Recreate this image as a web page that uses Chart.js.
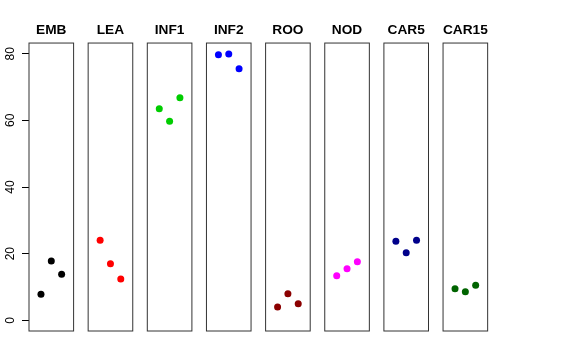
<!DOCTYPE html>
<html>
<head>
<meta charset="utf-8">
<script src="https://cdn.jsdelivr.net/npm/chart.js@4/dist/chart.umd.min.js"></script>
<style>
  html, body { margin: 0; padding: 0; background: #fff; }
  #wrap { position: relative; width: 576px; height: 360px; }
  #wrap canvas { position: absolute; left: 0; top: 0; }
</style>
</head>
<body>
<div id="wrap"></div>
<script>
// panel names and colours
const panels = ['EMB', 'LEA', 'INF1', 'INF2', 'ROO', 'NOD', 'CAR5', 'CAR15'];
const colors = ['#000000', '#FF0000', '#00CD00', '#0000FF', '#8B0000', '#FF00FF', '#00008B', '#006400'];

// jittered x positions inside each panel
const xPos = [1, 2, 3];

// values, one array per panel
const embVals = [7.8, 17.8, 13.8];
const leaVals = [24.0, 17.0, 12.4];
const inf1Vals = [63.5, 59.7, 66.8];
const inf2Vals = [79.7, 79.9, 75.5];
const rooVals = [4.0, 8.0, 5.0];
const nodVals = [13.4, 15.5, 17.6];
const car5Vals = [23.7, 20.3, 24.0];
const car15Vals = [9.5, 8.6, 10.5];
const allVals = [embVals, leaVals, inf1Vals, inf2Vals, rooVals, nodVals, car5Vals, car15Vals];

const yTicks = [0, 20, 40, 60, 80];

const W = 576, H = 360;
const firstLeft = 29, step = 59.15, boxW = 44.6, axisW = 29;

// box around each plot region
const frame = {
    id: 'frame',
    afterDraw(chart) {
        const a = chart.chartArea;
        const ctx = chart.ctx;
        ctx.save();
        ctx.strokeStyle = '#333';
        ctx.lineWidth = 1;
        ctx.strokeRect(a.left, a.top, a.right - a.left, a.bottom - a.top);
        ctx.restore();
    }
};

const wrap = document.getElementById('wrap');

panels.forEach((name, i) => {
    const canvas = document.createElement('canvas');
    canvas.width = W;
    canvas.height = H;
    wrap.appendChild(canvas);

    const boxLeft = firstLeft + i * step;
    const showAxis = i === 0;

    new Chart(canvas.getContext('2d'), {
        type: 'scatter',
        data: {
            datasets: [{
                data: xPos.map((x, k) => ({ x: x, y: allVals[i][k] })),
                backgroundColor: colors[i],
                borderWidth: 0,
                pointRadius: 3.5,
                pointHoverRadius: 3.5
            }]
        },
        options: {
            responsive: false,
            animation: false,
            events: [],
            layout: {
                padding: {
                    left: boxLeft - axisW,
                    right: W - (boxLeft + boxW) - axisW,
                    top: 0,
                    bottom: 29
                }
            },
            plugins: {
                legend: { display: false },
                tooltip: { enabled: false },
                title: {
                    display: true,
                    text: name,
                    color: '#000',
                    font: { family: 'Liberation Sans, Arial, sans-serif', size: 13.7, weight: 'bold' },
                    padding: { top: 21.8, bottom: 4.8 }
                }
            },
            scales: {
                x: {
                    type: 'linear',
                    min: -0.16,
                    max: 4.16,
                    display: false
                },
                y: {
                    type: 'linear',
                    position: 'left',
                    min: -3.2,
                    max: 83.2,
                    afterBuildTicks: s => { s.ticks = yTicks.map(v => ({ value: v })); },
                    afterFit: s => { s.width = axisW; },
                    border: { display: false },
                    grid: {
                        display: showAxis,
                        drawOnChartArea: false,
                        drawTicks: true,
                        tickLength: 7,
                        color: '#000'
                    },
                    ticks: {
                        display: showAxis,
                        minRotation: 90,
                        maxRotation: 90,
                        crossAlign: 'center',
                        padding: 5,
                        color: '#000',
                        font: { family: 'Liberation Sans, Arial, sans-serif', size: 12 }
                    }
                },
                // empty right axis so the title centres over the box
                pad: {
                    type: 'linear',
                    position: 'right',
                    afterFit: s => { s.width = axisW; },
                    border: { display: false },
                    grid: { display: false },
                    ticks: { display: false }
                }
            }
        },
        plugins: [frame]
    });
});
</script>
</body>
</html>
